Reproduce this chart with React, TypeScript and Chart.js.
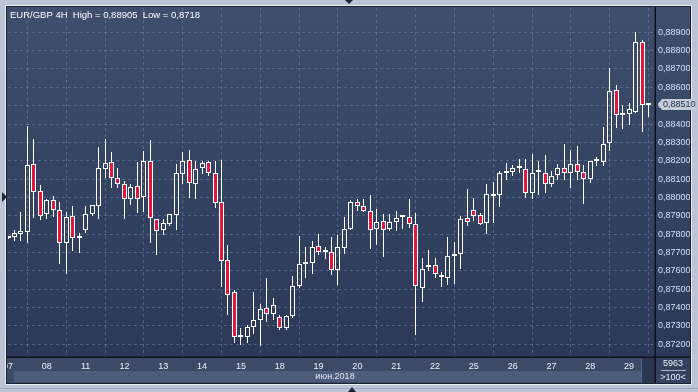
import React, { useEffect, useRef } from "react";
import { Chart, registerables } from "chart.js";

Chart.register(...registerables);

// ---- Data ----
const titleText = "EUR/GBP 4H  High = 0,88905  Low = 0,8718";
const monthLabel = "июн.2018";
const barsCountLabel = "5963";
const zoomLabel = ">100<";
const lastPriceLabel = "0,88510";

const dayLabels = ["07", "08", "11", "12", "13", "14", "15", "18", "19", "20", "21", "22", "25", "26", "27", "28", "29"];
const dayStartIndex = [0, 6, 12, 18, 24, 30, 36, 42, 48, 54, 60, 66, 72, 78, 84, 90, 96];

const yTickValues = [0.872, 0.873, 0.874, 0.875, 0.876, 0.877, 0.878, 0.879, 0.88, 0.881, 0.882, 0.883, 0.884, 0.885, 0.886, 0.887, 0.888, 0.889];
const yTickLabels = ["0,87200", "0,87300", "0,87400", "0,87500", "0,87600", "0,87700", "0,87800", "0,87900", "0,88000", "0,88100", "0,88200", "0,88300", "0,88400", "0,88500", "0,88600", "0,88700", "0,88800", "0,88900"];

const Y_MIN = 0.871305;
const Y_MAX = 0.890324;
const X_MIN = 0;
const X_MAX = 100;

const openP = [
  0.8778, 0.87786, 0.87799, 0.8781, 0.88181, 0.88033, 0.87908, 0.87984, 0.8793, 0.8775,
  0.87897, 0.87777, 0.87821, 0.87911, 0.87952, 0.88153, 0.88193, 0.88104, 0.88072, 0.87993,
  0.88061, 0.88001, 0.88197, 0.87881, 0.87821, 0.87857, 0.87906, 0.88126, 0.88206, 0.88072,
  0.88159, 0.88193, 0.88132, 0.87974, 0.87657, 0.87483, 0.8724, 0.87238, 0.87296, 0.8733,
  0.87396, 0.87365, 0.87347, 0.87287, 0.87352, 0.87516, 0.87636, 0.87641, 0.87734, 0.87701,
  0.87701, 0.87606, 0.87723, 0.87826, 0.87974, 0.87952, 0.87924, 0.87826, 0.8787, 0.87826,
  0.87865, 0.87892, 0.87892, 0.87854, 0.87508, 0.87622, 0.8763, 0.87576, 0.87559, 0.87679,
  0.8769, 0.87886, 0.8793, 0.87903, 0.87859, 0.88017, 0.88012, 0.88132, 0.88137, 0.88159,
  0.88153, 0.88023, 0.88136, 0.88132, 0.88072, 0.88121, 0.88159, 0.88132, 0.88181, 0.88137,
  0.881, 0.88197, 0.88195, 0.88295, 0.88586, 0.88448, 0.88453, 0.88464, 0.88846, 0.88505,
];
const highP = [
  0.8779, 0.87823, 0.87921, 0.88389, 0.88318, 0.88068, 0.87993, 0.88006, 0.87975, 0.87921,
  0.87953, 0.87808, 0.87953, 0.8796, 0.88275, 0.88318, 0.88249, 0.8816, 0.8809, 0.88073,
  0.88193, 0.88253, 0.88313, 0.87884, 0.87884, 0.87911, 0.88181, 0.88248, 0.88259, 0.88197,
  0.88199, 0.88199, 0.88199, 0.88204, 0.87739, 0.87496, 0.87287, 0.87305, 0.87485, 0.87419,
  0.87559, 0.8745, 0.87359, 0.87359, 0.8757, 0.87788, 0.87728, 0.87761, 0.87799, 0.87728,
  0.87783, 0.87794, 0.87892, 0.87984, 0.87993, 0.8799, 0.88013, 0.87935, 0.8791, 0.8791,
  0.87926, 0.87893, 0.87992, 0.87915, 0.8767, 0.87712, 0.87668, 0.87592, 0.87784, 0.87756,
  0.87897, 0.88044, 0.87995, 0.87914, 0.88072, 0.88083, 0.88142, 0.88186, 0.88177, 0.8821,
  0.88208, 0.88235, 0.88197, 0.8823, 0.88142, 0.88181, 0.8829, 0.88257, 0.88279, 0.88175,
  0.88197, 0.88219, 0.88386, 0.88704, 0.88611, 0.88502, 0.88513, 0.88903, 0.88858, 0.88511,
];
const lowP = [
  0.87772, 0.87764, 0.87764, 0.87753, 0.8789, 0.87879, 0.87883, 0.87893, 0.87639, 0.87581,
  0.8771, 0.87699, 0.87805, 0.879, 0.87884, 0.88106, 0.88053, 0.8805, 0.87884, 0.8796,
  0.87917, 0.87922, 0.87753, 0.87688, 0.87797, 0.87846, 0.87824, 0.88072, 0.87996, 0.87993,
  0.88128, 0.88118, 0.87944, 0.87514, 0.87359, 0.87207, 0.87196, 0.87207, 0.87257, 0.8719,
  0.87321, 0.8733, 0.87278, 0.87278, 0.87341, 0.87505, 0.87563, 0.87584, 0.87685, 0.87663,
  0.87579, 0.87524, 0.8769, 0.87823, 0.87924, 0.87919, 0.87721, 0.87742, 0.87677, 0.87815,
  0.87815, 0.8783, 0.87832, 0.8725, 0.87432, 0.87599, 0.87563, 0.87514, 0.87524, 0.8753,
  0.87612, 0.87843, 0.8787, 0.87848, 0.87799, 0.87859, 0.87946, 0.88093, 0.88117, 0.88132,
  0.87996, 0.87993, 0.88015, 0.88023, 0.88055, 0.88093, 0.88093, 0.88051, 0.88093, 0.87966,
  0.88077, 0.8817, 0.88173, 0.88255, 0.88377, 0.88375, 0.88393, 0.88459, 0.88355, 0.8844,
];
const closeP = [
  0.87788, 0.87805, 0.87815, 0.88175, 0.88028, 0.87897, 0.87984, 0.8793, 0.8775, 0.87892,
  0.87779, 0.8779, 0.87908, 0.87957, 0.88159, 0.88188, 0.88104, 0.88072, 0.8799, 0.88055,
  0.87993, 0.88197, 0.87886, 0.87815, 0.87859, 0.87908, 0.88132, 0.882, 0.88079, 0.88153,
  0.88188, 0.88132, 0.87968, 0.87652, 0.87467, 0.87238, 0.87243, 0.87292, 0.8733, 0.87392,
  0.87365, 0.87412, 0.87287, 0.87352, 0.87516, 0.87636, 0.87642, 0.87728, 0.87701, 0.87702,
  0.87603, 0.87728, 0.87826, 0.87974, 0.87952, 0.87924, 0.87821, 0.87865, 0.87821, 0.87865,
  0.87886, 0.87893, 0.87854, 0.87516, 0.87608, 0.87624, 0.87581, 0.87565, 0.87679, 0.8769,
  0.87881, 0.87865, 0.87897, 0.87854, 0.88017, 0.88006, 0.88132, 0.88137, 0.88159, 0.8816,
  0.88023, 0.88132, 0.88138, 0.88072, 0.88115, 0.88159, 0.88132, 0.88181, 0.88137, 0.881,
  0.88197, 0.88199, 0.8829, 0.8858, 0.88448, 0.8845, 0.88482, 0.88849, 0.88502, 0.8851,
];

// ---- Styles ----
const FONT = "'Liberation Sans', Arial, sans-serif";
const RED = "#df1840";
const GRID = "rgba(125,145,185,0.45)";
const CHROME = "#b9c5d5";

const chromePlugin = {
  id: "chrome",
  afterDatasetsUpdate(chart: any) {
    // snap candle elements to the pixel grid for crisp 1px outlines/wicks
    chart.data.datasets.forEach((_: any, di: number) => {
      const meta = chart.getDatasetMeta(di);
      meta.data.forEach((el: any) => {
        el.x = Math.floor(el.x) + 0.5;
        el.y = Math.round(el.y);
        el.base = Math.round(el.base);
      });
    });
  },
  beforeDraw(chart: any) {
    const { ctx, chartArea: a, width, height } = chart;
    ctx.save();
    ctx.fillStyle = CHROME;
    ctx.fillRect(0, 0, width, height);
    const g = ctx.createLinearGradient(0, a.top, 0, a.bottom);
    g.addColorStop(0, "#3f4e6d");
    g.addColorStop(1, "#2b3857");
    ctx.fillStyle = g;
    ctx.fillRect(7, 7, 683, a.bottom - 7);
    ctx.fillStyle = "#3c4a66";
    ctx.fillRect(7, a.bottom, 683, 383 - a.bottom);
    ctx.fillStyle = "#4d5c78";
    ctx.fillRect(14, 371, 628, 11);
    ctx.fillStyle = "#2b3751";
    ctx.fillRect(642, a.bottom, a.right - 642, 383 - a.bottom);
    ctx.fillStyle = "#56647e";
    ctx.fillRect(641, a.bottom + 1, 1, 383 - a.bottom - 2);
    ctx.fillStyle = "#34425e";
    ctx.fillRect(a.right, a.bottom, 690 - a.right, 383 - a.bottom);
    ctx.restore();
  },
  afterDraw(chart: any) {
    const { ctx, chartArea: a, width, height, scales } = chart;
    ctx.save();
    ctx.fillStyle = "#0c111c";
    ctx.fillRect(7, a.bottom - 0.5, 683, 1.5);
    ctx.fillRect(a.right - 0.5, 7, 1.5, 376);
    ctx.fillStyle = CHROME;
    ctx.fillRect(0, 0, 7, height);
    ctx.fillRect(0, 0, width, 7);
    ctx.fillRect(690, 0, width - 690, height);
    ctx.fillRect(0, 383, width, height - 383);
    ctx.strokeStyle = "#e8edf4";
    ctx.lineWidth = 1;
    ctx.strokeRect(5.5, 5.5, 686, 379);
    ctx.strokeStyle = "#1b2232";
    ctx.strokeRect(6.5, 6.5, 684, 377);
    ctx.strokeStyle = "#9aa8bc";
    ctx.beginPath();
    ctx.moveTo(0, 388.5);
    ctx.lineTo(width, 388.5);
    ctx.stroke();

    ctx.fillStyle = "#ffffff";
    ctx.font = `9.5px ${FONT}`;
    ctx.textBaseline = "middle";
    ctx.textAlign = "left";
    ctx.fillText(titleText, 10, 15);

    ctx.font = `9px ${FONT}`;
    ctx.fillStyle = "#e2e8f2";
    ctx.textAlign = "center";
    ctx.fillText(monthLabel, 335, 377);

    ctx.fillStyle = "#e8eef8";
    ctx.fillText(barsCountLabel, 673, 364);
    ctx.fillText(zoomLabel, 673, 377.5);
    ctx.fillStyle = "#aab6c8";
    ctx.fillRect(661, 370, 25, 1);

    ctx.fillStyle = "#1d2536";
    ctx.beginPath();
    ctx.moveTo(2, 192); ctx.lineTo(7, 197); ctx.lineTo(2, 202); ctx.closePath(); ctx.fill();
    ctx.beginPath();
    ctx.moveTo(345, 0); ctx.lineTo(353, 0); ctx.lineTo(349, 4); ctx.closePath(); ctx.fill();
    ctx.beginPath();
    ctx.moveTo(348, 392); ctx.lineTo(356, 392); ctx.lineTo(352, 387); ctx.closePath(); ctx.fill();

    const yPix = scales.y.getPixelForValue(closeP[closeP.length - 1]);
    const tagTop = Math.round(yPix) - 6;
    ctx.fillStyle = "#c6cdd8";
    ctx.beginPath();
    ctx.moveTo(a.right + 3, tagTop + 6);
    ctx.lineTo(a.right + 7, tagTop + 1);
    ctx.lineTo(695, tagTop + 1);
    ctx.lineTo(695, tagTop + 12);
    ctx.lineTo(a.right + 7, tagTop + 12);
    ctx.closePath();
    ctx.fill();
    ctx.fillStyle = "#253047";
    ctx.textAlign = "left";
    ctx.fillText(lastPriceLabel, a.right + 8, tagTop + 6.5);
    ctx.restore();
  },
};

export default function App() {
  const canvasRef = useRef<HTMLCanvasElement | null>(null);

  useEffect(() => {
    document.body.style.margin = "0";
    const canvas = canvasRef.current;
    if (!canvas) return;
    const idx = openP.map((_, i) => i);
    const down = idx.map((i) => closeP[i] < openP[i]);

    const common = { grouped: false, inflateAmount: 0, clip: 0, borderSkipped: false };

    const chart = new Chart(canvas, {
      type: "bar",
      data: {
        datasets: [
          {
            label: "body",
            data: idx.map((i) => ({ x: i, y: [openP[i], closeP[i]] })),
            backgroundColor: idx.map((i) => (down[i] ? RED : "rgba(0,0,0,0)")),
            borderColor: "#ffffff",
            borderWidth: 1,
            barThickness: 5,
            minBarLength: 2,
            order: 0,
            ...common,
          },
          {
            label: "upperWick",
            data: idx.map((i) => ({ x: i, y: [Math.max(openP[i], closeP[i]), highP[i]] })),
            backgroundColor: "#ffffff",
            borderWidth: 0,
            barThickness: 1,
            order: 1,
            ...common,
          },
          {
            label: "lowerWick",
            data: idx.map((i) => ({ x: i, y: [lowP[i], Math.min(openP[i], closeP[i])] })),
            backgroundColor: "#ffffff",
            borderWidth: 0,
            barThickness: 1,
            order: 2,
            ...common,
          },
        ] as any,
      },
      options: {
        responsive: false,
        animation: false,
        devicePixelRatio: 1,
        layout: { padding: { left: 8, top: 8, right: 8, bottom: 9 } },
        plugins: {
          legend: { display: false },
          tooltip: { enabled: false },
          title: { display: false },
        },
        scales: {
          x: {
            type: "linear",
            min: X_MIN,
            max: X_MAX,
            offset: false,
            position: "bottom",
            grid: { color: GRID, lineWidth: 1, drawTicks: false },
            border: { display: false, dash: [3, 3] },
            ticks: {
              autoSkip: false,
              maxRotation: 0,
              minRotation: 0,
              color: "#eef2f8",
              font: { family: FONT, size: 9 },
              padding: 4,
              callback: (_v: any, i: number) => dayLabels[i] ?? "",
            },
            afterBuildTicks: (s: any) => {
              s.ticks = dayStartIndex.map((v) => ({ value: v }));
            },
            afterFit: (s: any) => {
              s.height = 26;
              s.paddingLeft = 0;
              s.paddingRight = 0;
            },
          },
          y: {
            type: "linear",
            position: "right",
            min: Y_MIN,
            max: Y_MAX,
            grid: { color: GRID, lineWidth: 1, drawTicks: false },
            border: { display: false, dash: [3, 3] },
            ticks: {
              color: "#cfe0f6",
              font: { family: FONT, size: 9 },
              padding: 3,
              callback: (_v: any, i: number) => yTickLabels[i] ?? "",
            },
            afterBuildTicks: (s: any) => {
              s.ticks = yTickValues.map((v) => ({ value: v }));
            },
            afterFit: (s: any) => {
              s.width = 35;
              s.paddingTop = 0;
              s.paddingBottom = 0;
            },
          },
        },
      } as any,
      plugins: [chromePlugin],
    });
    return () => chart.destroy();
  }, []);

  return (
    <div style={{ position: "absolute", left: 0, top: 0, width: 698, height: 392 }}>
      <canvas ref={canvasRef} width={698} height={392} style={{ display: "block", width: 698, height: 392 }} />
    </div>
  );
}
